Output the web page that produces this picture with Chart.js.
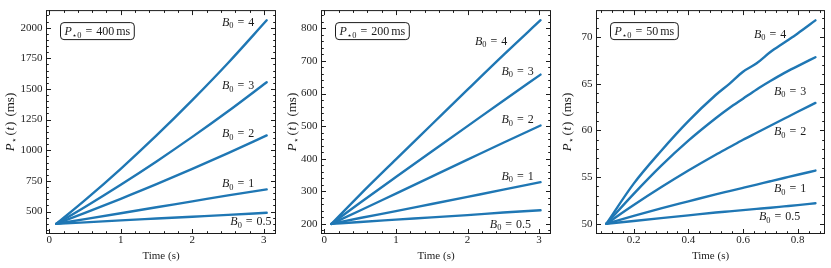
<!DOCTYPE html>
<html><head><meta charset="utf-8">
<script src="https://cdn.jsdelivr.net/npm/chart.js@4.4.1/dist/chart.umd.min.js"></script>
<style>
html,body{margin:0;padding:0;background:#fff;width:831px;height:268px;overflow:hidden}
canvas{position:absolute;left:0;top:0}
</style></head><body>
<canvas id="c1" width="831" height="268"></canvas>
<canvas id="c2" width="831" height="268"></canvas>
<canvas id="c3" width="831" height="268"></canvas>
<script>
// ---------- data ----------
const bValues = ['4', '3', '2', '1', '0.5'];

// Panel 1: P*0 = 400 ms
const time400 = [0.1, 0.5, 1.0, 1.5, 2.0, 2.5, 3.04];
const p400_B4  = [400, 593, 849, 1121, 1409, 1712, 2060];
const p400_B3  = [400, 538, 719, 909, 1109, 1318, 1555];
const p400_B2  = [400, 489, 604, 723, 848, 977, 1121];
const p400_B1  = [400, 438, 486, 535, 583, 632, 681];
const p400_B05 = [400, 412, 428, 443, 458, 473, 490];

// Panel 2: P*0 = 200 ms
const time200 = [0.1, 0.5, 1.0, 1.5, 2.0, 2.5, 3.02];
const p200_B4  = [200, 290, 398, 505, 612, 718, 825];
const p200_B3  = [200, 265, 344, 422, 500, 578, 658];
const p200_B2  = [200, 241, 293, 345, 397, 449, 502];
const p200_B1  = [200, 218, 239, 261, 283, 305, 328];
const p200_B05 = [200, 206, 213, 220, 227, 235, 242];

// Panel 3: P*0 = 50 ms
const time50 = [0.1, 0.2, 0.3, 0.4, 0.5, 0.55, 0.6, 0.65, 0.7, 0.75, 0.8, 0.865];
const p50_B4  = [50, 54.3, 57.8, 61.0, 63.8, 65.0, 66.3, 67.2, 68.4, 69.4, 70.4, 71.8];
const p50_B3  = [50, 53.2, 56.2, 58.9, 61.3, 62.4, 63.4, 64.4, 65.3, 66.15, 66.9, 67.85];
const p50_B2  = [50, 52.0, 53.9, 55.7, 57.4, 58.2, 59.0, 59.75, 60.5, 61.25, 62.0, 62.95];
const p50_B1  = [50, 50.85, 51.65, 52.4, 53.15, 53.5, 53.85, 54.2, 54.55, 54.9, 55.25, 55.7];
const p50_B05 = [50, 50.3, 50.6, 50.9, 51.2, 51.33, 51.46, 51.59, 51.72, 51.86, 52.0, 52.2];

const p0Labels = ['400', '200', '50'];

// ---------- styling ----------
const FONT = '"Liberation Serif", "DejaVu Serif", serif';
const INK = '#1c1c1c';
const LINE = '#1f77b4';

function richText(ctx, segs, x, y, size, align) {
  let w = 0;
  const parts = segs.map(s => {
    const fs = s.sub ? size * 0.7 : size;
    const font = (s.it ? 'italic ' : '') + fs + 'px ' + FONT;
    ctx.font = font;
    const sw = ctx.measureText(s.t).width;
    w += (s.pre || 0) + sw;
    return { s, font, sw };
  });
  let cx = align === 'center' ? x - w / 2 : (align === 'right' ? x - w : x);
  ctx.fillStyle = INK;
  ctx.textBaseline = 'alphabetic';
  ctx.textAlign = 'left';
  parts.forEach(p => {
    cx += (p.s.pre || 0);
    ctx.font = p.font;
    ctx.fillText(p.s.t, cx, y + (p.s.sub ? size * 0.22 : 0));
    cx += p.sw;
  });
  return w;
}
function measureRich(ctx, segs, size) {
  let w = 0;
  segs.forEach(s => {
    ctx.font = (s.it ? 'italic ' : '') + (s.sub ? size * 0.7 : size) + 'px ' + FONT;
    w += (s.pre || 0) + ctx.measureText(s.t).width;
  });
  return w;
}

const panelPlugin = {
  id: 'panelDecor',
  afterDraw(chart) {
    const cfg = chart.options.plugins.panelDecor;
    const { ctx, chartArea: a, scales: { x, y } } = chart;
    ctx.save();
    ctx.strokeStyle = INK;
    ctx.lineWidth = 1;
    ctx.strokeRect(a.left + 0.5, a.top + 0.5, a.right - a.left - 1, a.bottom - a.top - 1);
    const seg = (x1, y1, x2, y2) => { ctx.beginPath(); ctx.moveTo(x1, y1); ctx.lineTo(x2, y2); ctx.stroke(); };
    const MAJ = 5, MIN = 2.8;
    x.ticks.forEach(t => {
      const px = Math.round(x.getPixelForValue(t.value)) + 0.5;
      seg(px, a.bottom, px, a.bottom - MAJ); seg(px, a.top, px, a.top + MAJ);
    });
    const mx = cfg.xStep / 5;
    for (let k = Math.ceil(x.min / mx - 1e-9); k * mx <= x.max + 1e-9; k++) {
      if (k % 5 === 0) continue;
      const px = Math.round(x.getPixelForValue(k * mx)) + 0.5;
      seg(px, a.bottom, px, a.bottom - MIN); seg(px, a.top, px, a.top + MIN);
    }
    y.ticks.forEach(t => {
      const py = Math.round(y.getPixelForValue(t.value)) + 0.5;
      seg(a.left, py, a.left + MAJ, py); seg(a.right, py, a.right - MAJ, py);
    });
    const my = cfg.yStep / 5;
    for (let k = Math.ceil(y.min / my - 1e-9); k * my <= y.max + 1e-9; k++) {
      if (k % 5 === 0) continue;
      const py = Math.round(y.getPixelForValue(k * my)) + 0.5;
      seg(a.left, py, a.left + MIN, py); seg(a.right, py, a.right - MIN, py);
    }
    cfg.labels.forEach((lb, i) => {
      const px = x.getPixelForValue(lb.x), py = y.getPixelForValue(lb.y);
      richText(ctx, [{ t: 'B', it: true }, { t: '0', sub: true }, { t: '=', pre: 4 }, { t: bValues[i], pre: 4 }], px, py + 4, 12, 'center');
    });
    const boxSegs = [{ t: 'P', it: true }, { t: '\u22c60', sub: true, pre: 0.5 }, { t: '=', pre: 4 }, { t: cfg.p0, pre: 4 }, { t: 'ms', pre: 2 }];
    const tw = measureRich(ctx, boxSegs, 12);
    const bx = a.left + 14, by = a.top + 12, bw = tw + 8, bh = 17;
    ctx.beginPath();
    ctx.roundRect(bx + 0.5, by + 0.5, bw, bh, 3.5);
    ctx.fillStyle = '#fff'; ctx.fill();
    ctx.strokeStyle = INK; ctx.stroke();
    richText(ctx, boxSegs, bx + 0.5 + bw / 2, by + bh / 2 + 4.5, 12, 'center');
    ctx.translate(a.left + cfg.yTitleDx, (a.top + a.bottom) / 2);
    ctx.rotate(-Math.PI / 2);
    richText(ctx, [{ t: 'P', it: true }, { t: '\u22c6', sub: true, pre: 0.5 }, { t: '(', pre: 1.5 }, { t: 't', it: true, pre: 0.5 }, { t: ')', pre: 1 }, { t: '(ms)', pre: 5 }], 0, 4.5, 13, 'center');
    ctx.restore();
  }
};

function fmt(v) { return String(Number(v.toFixed(3))); }

function makePanel(id, opt) {
  const ds = opt.series.map(s => ({
    data: opt.times.map((t, i) => ({ x: t, y: s[i] })),
    borderColor: LINE, borderWidth: 2.4, pointRadius: 0, fill: false,
    cubicInterpolationMode: 'monotone', borderCapStyle: 'round'
  }));
  return new Chart(document.getElementById(id), {
    type: 'line',
    data: { datasets: ds },
    options: {
      responsive: false, animation: false, devicePixelRatio: 1,
      layout: { padding: { left: opt.area[0] - opt.yW, right: 831 - opt.area[1], top: 5, bottom: 0 } },
      plugins: {
        legend: { display: false }, tooltip: { enabled: false },
        panelDecor: { xStep: opt.xStep, yStep: opt.yStep, labels: opt.labels, p0: opt.p0, yTitleDx: opt.yTitleDx }
      },
      scales: {
        x: {
          type: 'linear', min: opt.xr[0], max: opt.xr[1],
          afterFit: s => { s.height = 34; },
          grid: { display: false, drawTicks: false }, border: { display: false },
          ticks: { stepSize: opt.xStep, includeBounds: false, padding: 0, maxRotation: 0, autoSkip: false, color: INK, font: { family: FONT, size: 11 }, callback: fmt },
          title: { display: true, text: 'Time (s)', color: INK, font: { family: FONT, size: 11 }, padding: { top: 0, bottom: 5 } }
        },
        y: {
          type: 'linear', min: opt.yr[0], max: opt.yr[1],
          afterFit: s => { s.width = opt.yW; },
          grid: { display: false, drawTicks: false }, border: { display: false },
          ticks: { stepSize: opt.yStep, includeBounds: false, padding: 3.5, autoSkip: false, color: INK, font: { family: FONT, size: 11 }, callback: fmt }
        }
      }
    },
    plugins: [panelPlugin]
  });
}

makePanel('c1', {
  area: [46, 276], yW: 40, xr: [-0.045, 3.17], yr: [317, 2143], xStep: 1, yStep: 250,
  times: time400, series: [p400_B4, p400_B3, p400_B2, p400_B1, p400_B05], p0: p0Labels[0], yTitleDx: -36.5,
  labels: [{ x: 2.64, y: 2050 }, { x: 2.64, y: 1530 }, { x: 2.64, y: 1138 }, { x: 2.64, y: 730 }, { x: 2.82, y: 419 }]
});
makePanel('c2', {
  area: [321, 551], yW: 34, xr: [-0.046, 3.166], yr: [169, 856], xStep: 1, yStep: 100,
  times: time200, series: [p200_B4, p200_B3, p200_B2, p200_B1, p200_B05], p0: p0Labels[1], yTitleDx: -29.5,
  labels: [{ x: 2.33, y: 762 }, { x: 2.70, y: 670 }, { x: 2.70, y: 522 }, { x: 2.70, y: 348 }, { x: 2.60, y: 201 }]
});
makePanel('c3', {
  area: [596, 825], yW: 34, xr: [0.062, 0.9], yr: [48.9, 72.9], xStep: 0.2, yStep: 5,
  times: time50, series: [p50_B4, p50_B3, p50_B2, p50_B1, p50_B05], p0: p0Labels[2], yTitleDx: -29.5,
  labels: [{ x: 0.699, y: 70.36 }, { x: 0.772, y: 64.27 }, { x: 0.772, y: 59.9 }, { x: 0.772, y: 53.78 }, { x: 0.734, y: 50.8 }]
});
</script>
</body></html>
